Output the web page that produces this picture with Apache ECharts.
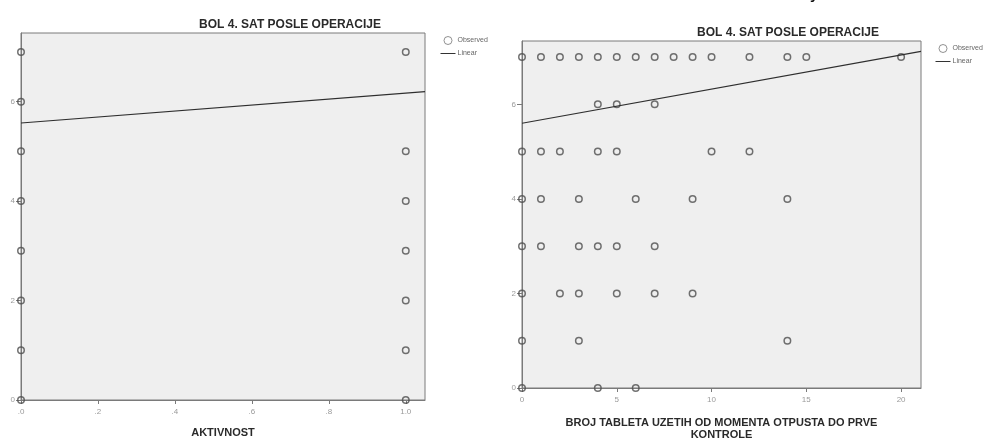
<!DOCTYPE html>
<html>
<head>
<meta charset="utf-8">
<script src="https://cdn.jsdelivr.net/npm/echarts@6/dist/echarts.min.js"></script>
<style>
  html, body { margin: 0; padding: 0; background: #fff; }
  #chart { width: 995px; height: 441px; }
</style>
</head>
<body>
<div id="chart"></div>
<script>
// Pain 4 hours after surgery vs. activity (left) and tablets taken (right)
const chartTitle = 'BOL 4. SAT POSLE OPERACIJE';
const leftAxisName = 'AKTIVNOST';
const rightAxisName = 'BROJ TABLETA UZETIH OD MOMENTA OTPUSTA DO PRVE\nKONTROLE';
const legendNames = ['Observed', 'Linear'];

// Left panel: observed pairs (activity, pain)
const activityX = [0, 0, 0, 0, 0, 0, 0, 0, 1, 1, 1, 1, 1, 1, 1];
const activityPain = [7, 6, 5, 4, 3, 2, 1, 0, 7, 5, 4, 3, 2, 1, 0];
// Left panel fitted line (ends of the plotted x range)
const activityFitX = [0, 1.05];
const activityFitY = [5.57, 6.2];
const activityTicks = [0, 0.2, 0.4, 0.6, 0.8, 1.0];
const activityTickLabels = ['.0', '.2', '.4', '.6', '.8', '1.0'];

// Right panel: observed pairs (tablets, pain)
const tabletsX = [
  0, 1, 2, 3, 4, 5, 6, 7, 8, 9, 10, 12, 14, 15, 20,
  4, 5, 7,
  0, 1, 2, 4, 5, 10, 12,
  0, 1, 3, 6, 9, 14,
  0, 1, 3, 4, 5, 7,
  0, 2, 3, 5, 7, 9,
  0, 3, 14,
  0, 4, 6
];
const tabletsPain = [
  7, 7, 7, 7, 7, 7, 7, 7, 7, 7, 7, 7, 7, 7, 7,
  6, 6, 6,
  5, 5, 5, 5, 5, 5, 5,
  4, 4, 4, 4, 4, 4,
  3, 3, 3, 3, 3, 3,
  2, 2, 2, 2, 2, 2,
  1, 1, 1,
  0, 0, 0
];
const tabletsFitX = [0, 21.05];
const tabletsFitY = [5.6, 7.12];
const tabletsTicks = [0, 5, 10, 15, 20];
const tabletsTickLabels = ['0', '5', '10', '15', '20'];

// Shared pain axis
const painTicks = [0, 2, 4, 6];
const painTickLabels = ['0', '2', '4', '6'];

const zip = (xs, ys) => xs.map((x, i) => [x, ys[i]]);

const FONT = '"Liberation Sans", Arial, sans-serif';
const AXIS_COLOR = '#7a7a7a';
const LABEL_COLOR = '#9a9a9a';
const POINT_COLOR = '#4d4d4d';

function labelFromList(ticks, labels) {
  return v => {
    const i = ticks.findIndex(t => Math.abs(t - v) < 1e-6);
    return i >= 0 ? labels[i] : '';
  };
}

function xAxisFor(gridIndex, max, ticks, labels, name, nameGap) {
  return {
    type: 'value', gridIndex, min: 0, max,
    name, nameLocation: 'middle', nameGap,
    nameTextStyle: { fontFamily: FONT, fontWeight: 'bold', fontSize: 11, color: '#2a2a2a', lineHeight: 12 },
    axisLine: { show: true, onZero: false, lineStyle: { color: AXIS_COLOR, width: 1 } },
    axisTick: { show: true, length: 4, customValues: ticks, lineStyle: { color: AXIS_COLOR } },
    axisLabel: {
      customValues: ticks, margin: 8, fontSize: 8, fontFamily: FONT, color: LABEL_COLOR,
      formatter: labelFromList(ticks, labels)
    },
    splitLine: { show: false }
  };
}

function yAxisFor(gridIndex, max) {
  return {
    type: 'value', gridIndex, min: 0, max,
    axisLine: { show: true, onZero: false, lineStyle: { color: AXIS_COLOR, width: 1 } },
    axisTick: { show: true, length: 5, customValues: painTicks, lineStyle: { color: AXIS_COLOR } },
    axisLabel: {
      customValues: painTicks, margin: 6, fontSize: 8, fontFamily: FONT, color: LABEL_COLOR,
      formatter: labelFromList(painTicks, painTickLabels)
    },
    splitLine: { show: false }
  };
}

function scatterSeries(idx, data) {
  return {
    name: legendNames[0], type: 'scatter', xAxisIndex: idx, yAxisIndex: idx,
    data, symbol: 'circle', symbolSize: 6.5,
    itemStyle: { color: 'rgba(0,0,0,0)', borderColor: POINT_COLOR, borderWidth: 1.5 },
    emphasis: { disabled: true }, z: 3
  };
}

function fitSeries(idx, data) {
  return {
    name: legendNames[1], type: 'line', xAxisIndex: idx, yAxisIndex: idx,
    data, symbol: 'none', showSymbol: false,
    lineStyle: { color: '#2e2e2e', width: 1.2 },
    itemStyle: { color: '#2e2e2e' },
    emphasis: { disabled: true }, z: 4
  };
}

function legendAt(left, top) {
  return {
    left, top, padding: 0, orient: 'vertical', itemWidth: 15, itemHeight: 8, itemGap: 5,
    selectedMode: false,
    textStyle: { fontFamily: FONT, fontSize: 7, color: '#666', padding: [0, 0, 0, -3] },
    data: [
      { name: legendNames[0], icon: 'circle',
        itemStyle: { color: 'rgba(0,0,0,0)', borderColor: '#777', borderWidth: 1 } },
      { name: legendNames[1], itemStyle: { opacity: 0 },
        lineStyle: { color: '#333', width: 1 } }
    ]
  };
}

const chart = echarts.init(document.getElementById('chart'), null, { renderer: 'canvas' });

chart.setOption({
  animation: false,
  backgroundColor: '#ffffff',
  title: [
    { text: chartTitle, left: 285, top: 14, textAlign: 'center',
      textStyle: { fontFamily: FONT, fontWeight: 'bold', fontSize: 12, color: '#2a2a2a' } },
    { text: chartTitle, left: 783, top: 22, textAlign: 'center',
      textStyle: { fontFamily: FONT, fontWeight: 'bold', fontSize: 12, color: '#2a2a2a' } }
  ],
  legend: [legendAt(440, 36), legendAt(935, 44)],
  grid: [
    { left: 21, top: 33, right: 570, bottom: 41, show: true, containLabel: false,
      outerBoundsMode: 'none',
      backgroundColor: '#efefef', borderColor: AXIS_COLOR, borderWidth: 1 },
    { left: 522, top: 41, right: 74, bottom: 53, show: true, containLabel: false,
      outerBoundsMode: 'none',
      backgroundColor: '#efefef', borderColor: AXIS_COLOR, borderWidth: 1 }
  ],
  xAxis: [
    xAxisFor(0, 1.05, activityTicks, activityTickLabels, leftAxisName, 27),
    xAxisFor(1, 21.05, tabletsTicks, tabletsTickLabels, rightAxisName, 29)
  ],
  yAxis: [yAxisFor(0, 7.38), yAxisFor(1, 7.34)],
  graphic: [
    { type: 'text', left: 810, top: -13,
      style: { text: 'y', fontFamily: FONT, fontWeight: 'bold', fontSize: 15, fill: '#111' } }
  ],
  series: [
    scatterSeries(0, zip(activityX, activityPain)),
    fitSeries(0, zip(activityFitX, activityFitY)),
    scatterSeries(1, zip(tabletsX, tabletsPain)),
    fitSeries(1, zip(tabletsFitX, tabletsFitY))
  ]
});
</script>
</body>
</html>
